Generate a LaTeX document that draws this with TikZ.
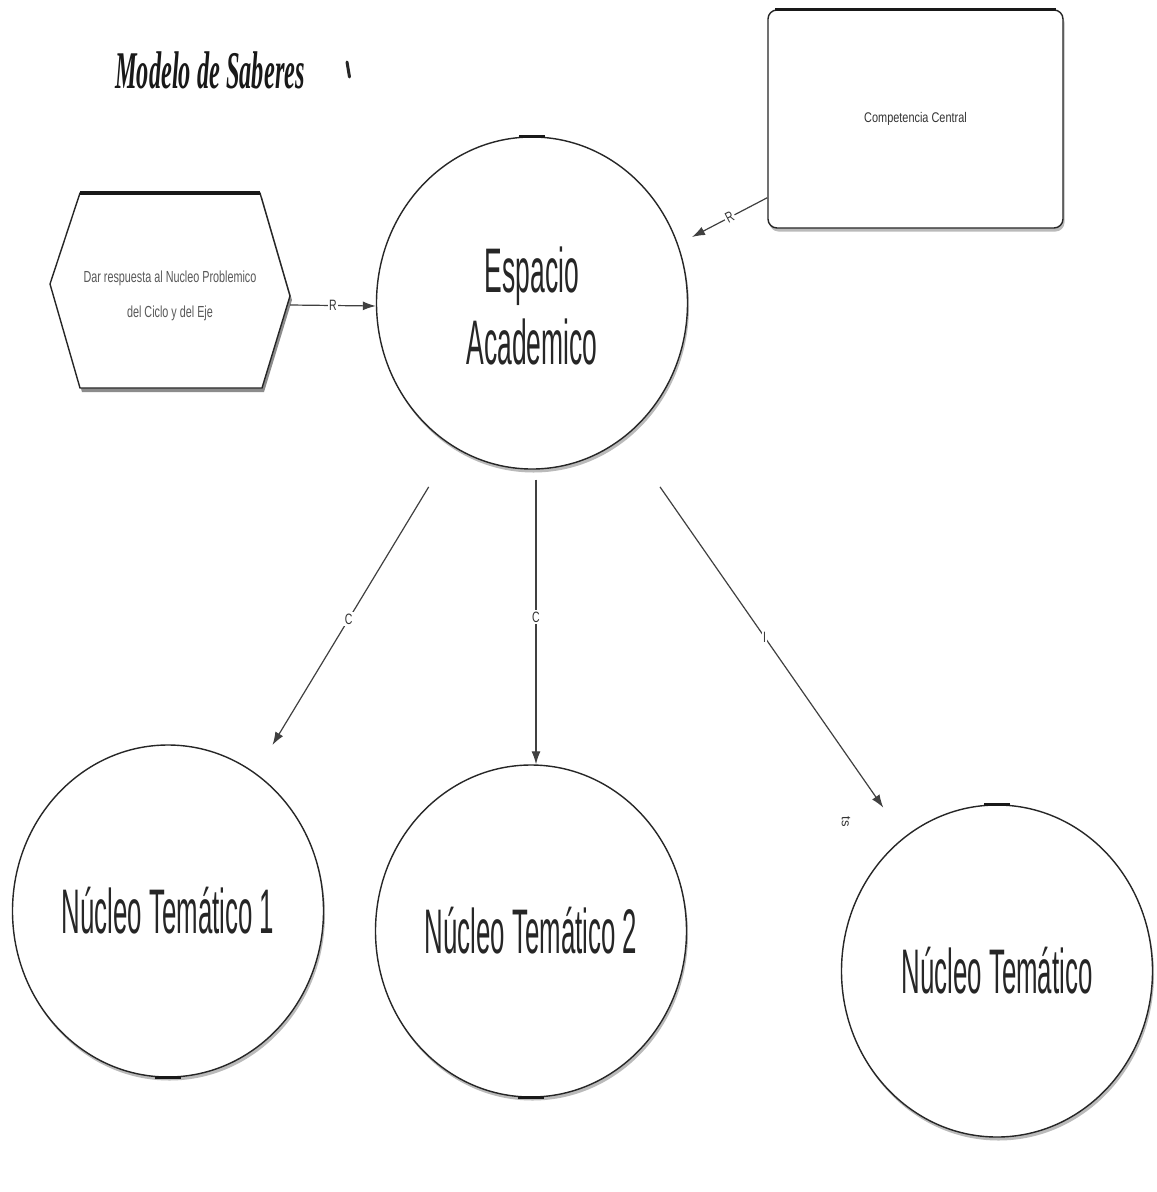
\documentclass[tikz,border=0pt]{standalone}
\usepackage{fontspec}
\setmainfont{Liberation Sans}
\newfontfamily\titlefont{Liberation Serif}
\usetikzlibrary{shapes.geometric,shadows,arrows.meta}

\begin{document}
\begin{tikzpicture}[x=1pt,y=-1pt,
  ink/.style={draw=black!85, line width=1.4pt},
  softshadow/.style={drop shadow={shadow xshift=1.5pt, shadow yshift=-3.5pt, opacity=.45, fill=black!60}},
  bigtext/.style={text=black!85, font=\fontsize{63}{72}\selectfont},
  bubble/.style={ellipse, ink, fill=white, inner sep=0pt, minimum width=311pt,
    minimum height=332pt, softshadow, bigtext},
  link/.style={draw=black!75, line width=1.2pt, -{Latex[length=13pt,width=9pt]}},
  lbl/.style={fill=white, inner sep=1.5pt, text=black!80, font=\fontsize{15}{15}\selectfont},
  handle/.style={line width=3pt, draw=black!90},
]
% page
\fill[white] (0,0) rectangle (1157,1192);
\useasboundingbox (0,0) rectangle (1157,1192);

% title
\node[anchor=base west, inner sep=0pt, text=black!90,
      font=\titlefont\bfseries\itshape\fontsize{53}{60}\selectfont] (title) at (115,88)
      {\scalebox{0.46}[1]{Modelo de Saberes}};
\draw[line width=3pt, black!85, line cap=round] (347,62) -- (349.5,77);

% central ellipse
\node[bubble, label={[name=espTxt, bigtext, inner sep=0pt, yshift=-11pt]center:%
      \scalebox{0.42}[1]{\begin{tabular}{@{}c@{}}Espacio\\Academico\end{tabular}}}]
      (espacio) at (532,303) {};
\draw[handle] ([xshift=-13pt]espacio.north) -- ([xshift=13pt]espacio.north);

% hexagon on the left
\fill[black!45] (82,197) -- (262,197) -- (292,300) -- (264,392) -- (82,392) -- (52,288) -- cycle;
\filldraw[fill=white, ink] (80,193) -- (260,193) -- (290,296) -- (262,388) -- (80,388) -- (50,284) -- cycle;
\draw[line width=3.5pt, black!90] (80,193) -- (260,193);
\coordinate (hexR) at (290,305);
\node[font=\fontsize{16}{35}\selectfont, text=black!65, inner sep=0pt] (hex) at (170,293)
  {\scalebox{0.675}[1]{\begin{tabular}{@{}c@{}}Dar respuesta al Nucleo Problemico\\del Ciclo y del Eje\end{tabular}}};

% rectangle on the right
\node[rectangle, rounded corners=9pt, ink, fill=white, minimum width=295pt, minimum height=218pt,
      softshadow, text=black!80, font=\fontsize{14}{14}\selectfont] (comp) at (915.5,119)
  {\scalebox{0.78}[1]{Competencia Central}};
\draw[line width=3.5pt, black!90] ([xshift=8pt]comp.north west) -- ([xshift=-8pt]comp.north east);
\coordinate (cIn) at (692,237);

% thematic nuclei
\node[bubble] (nt1) at (168,911) {\scalebox{0.41}[1]{Núcleo Temático 1}};
\node[bubble] (nt2) at (531,931) {\scalebox{0.41}[1]{Núcleo Temático 2}};
\node[bubble] (nt3) at (997,971) {\scalebox{0.41}[1]{Núcleo Temático}};
\draw[handle] ([xshift=-13pt]nt1.south) -- ([xshift=13pt]nt1.south);
\draw[handle] ([xshift=-13pt]nt2.south) -- ([xshift=13pt]nt2.south);
\draw[handle] ([xshift=-13pt]nt3.north) -- ([xshift=13pt]nt3.north);

% connectors
\draw[link] (hexR) -- node[lbl] {\scalebox{0.7}[1]{R}} ([yshift=-3pt]espacio.west);
\draw[link] ([yshift=31pt]comp.south west) -- node[lbl, sloped] {\scalebox{0.7}[1]{R}} (cIn);
\draw[link, shorten <=215pt, shorten >=194pt] ([xshift=8pt]espacio.center) --
      node[lbl, pos=.52] {\scalebox{0.7}[1]{C}} ([xshift=4pt]nt1.center);
\draw[link, shorten <=10pt] ([xshift=4pt]espacio.south) --
      node[lbl] {\scalebox{0.7}[1]{C}} ([xshift=5pt]nt2.north);
\draw[link, shorten <=61pt, shorten >=36pt] (espacio) -- node[lbl] {\scalebox{0.7}[1]{I}} (nt3);
\node[font=\fontsize{13}{13}\selectfont, text=black!80, rotate=-90, inner sep=0pt] (tip) at (846,822) {ts};

\end{tikzpicture}
\end{document}
